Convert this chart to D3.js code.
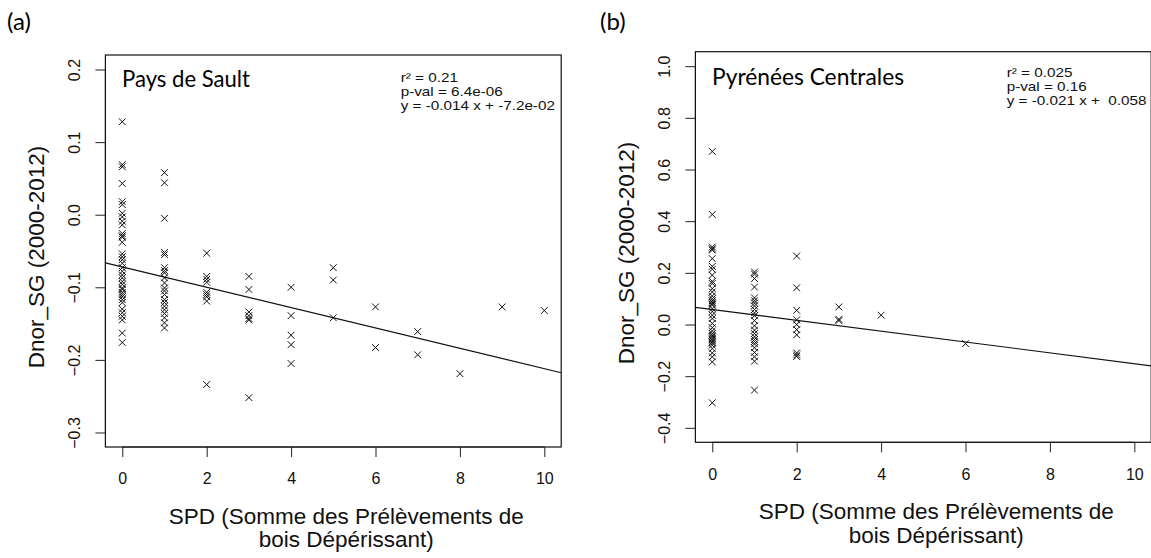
<!DOCTYPE html>
<html>
<head>
<meta charset="utf-8">
<script src="https://cdn.jsdelivr.net/npm/d3@7"></script>
<style>
  html, body { margin: 0; padding: 0; background: #fff; }
  svg { display: block; }
</style>
</head>
<body>
<svg id="chart" width="1151" height="558"></svg>
<script>
// ---------------- DATA ----------------
// (a) Pays de Sault : SPD values and Dnor_SG values observed at each SPD
const saultSPD = [0, 1, 2, 3, 4, 5, 6, 7, 8, 9, 10];
const saultDnor = [
  [0.128, 0.069, 0.066, 0.043, 0.018, 0.014, 0.002, -0.003, -0.009, -0.014, -0.026, -0.029, -0.031,
   -0.038, -0.054, -0.058, -0.062, -0.067, -0.073, -0.078, -0.083, -0.087, -0.092, -0.096, -0.101,
   -0.103, -0.107, -0.110, -0.113, -0.117, -0.121, -0.130, -0.135, -0.140, -0.145, -0.163, -0.176],
  [0.058, 0.044, -0.005, -0.052, -0.055, -0.073, -0.077, -0.080, -0.087, -0.094, -0.101, -0.105,
   -0.110, -0.117, -0.121, -0.126, -0.131, -0.136, -0.142, -0.149, -0.156],
  [-0.053, -0.085, -0.089, -0.093, -0.107, -0.110, -0.113, -0.119, -0.234],
  [-0.085, -0.103, -0.134, -0.139, -0.143, -0.145, -0.252],
  [-0.100, -0.139, -0.166, -0.179, -0.205],
  [-0.073, -0.090, -0.142],
  [-0.127, -0.183],
  [-0.161, -0.193],
  [-0.219],
  [-0.127],
  [-0.132]
];
const saultFit = { slope: -0.014, intercept: -0.072 };
const saultStats = ["r\u00B2 = 0.21", "p-val = 6.4e-06", "y = -0.014 x + -7.2e-02"];
const saultYTicks = [-0.3, -0.2, -0.1, 0.0, 0.1, 0.2];

// (b) Pyrénées Centrales
const pyrSPD = [0, 1, 2, 3, 4, 6];
const pyrDnor = [
  [0.670, 0.426, 0.300, 0.293, 0.288, 0.255, 0.225, 0.214, 0.191, 0.167, 0.159, 0.139, 0.126,
   0.110, 0.100, 0.092, 0.086, 0.080, 0.075, 0.062, 0.050, 0.036, 0.023, 0.004, -0.012, -0.025,
   -0.035, -0.042, -0.048, -0.055, -0.061, -0.067, -0.072, -0.080, -0.093, -0.110, -0.125,
   -0.145, -0.303],
  [0.203, 0.195, 0.178, 0.145, 0.103, 0.092, 0.083, 0.072, 0.058, 0.045, 0.034, 0.015, -0.005,
   -0.022, -0.035, -0.048, -0.058, -0.066, -0.075, -0.090, -0.108, -0.125, -0.142, -0.254],
  [0.265, 0.142, 0.055, 0.018, 0.000, -0.020, -0.040, -0.110, -0.118, -0.124],
  [0.068, 0.020, 0.015],
  [0.036],
  [-0.074]
];
const pyrFit = { slope: -0.021, intercept: 0.058 };
const pyrStats = ["r\u00B2 = 0.025", "p-val = 0.16", "y = -0.021 x +  0.058"];
const pyrYTicks = [-0.4, -0.2, 0.0, 0.2, 0.4, 0.6, 0.8, 1.0];

const xTicks = [0, 2, 4, 6, 8, 10];
const xLabelLines = ["SPD (Somme des Pr\u00E9l\u00E8vements de", "bois D\u00E9p\u00E9rissant)"];
const yLabel = "Dnor_SG (2000-2012)";

// ---------------- DRAWING ----------------
const svg = d3.select("#chart");
const AX_FONT = "'Liberation Sans', Arial, sans-serif";
const CAL_FONT = "Lato, 'Open Sans', sans-serif";

function drawPanel(cfg) {
  const x = d3.scaleLinear().domain([-0.4, 10.4]).range([cfg.left, cfg.right]);
  const y = d3.scaleLinear().domain(cfg.yDomain).range([cfg.bottom, cfg.top]);
  const g = svg.append("g");

  const clipId = "clip" + cfg.id;
  svg.append("clipPath").attr("id", clipId)
    .append("rect").attr("x", cfg.left).attr("y", cfg.top)
    .attr("width", cfg.right - cfg.left).attr("height", cfg.bottom - cfg.top);

  // panel tag
  g.append("text").attr("x", cfg.tagX).attr("y", 30)
    .attr("font-family", CAL_FONT).attr("font-size", 24).text(cfg.tag);

  // x axis
  const xAxis = d3.axisBottom(x).tickValues(xTicks).tickSize(10).tickPadding(18)
    .tickFormat(d3.format("d"));
  const gx = g.append("g").attr("transform", `translate(0,${cfg.bottom})`).call(xAxis);
  gx.select(".domain").attr("d", `M${x(0)},0H${x(10)}`).attr("stroke", "#222");
  gx.selectAll(".tick line").attr("stroke", "#222");
  gx.selectAll(".tick text").attr("font-family", AX_FONT).attr("font-size", 16)
    .attr("fill", "#111").attr("dy", "0.71em").attr("y", 26);

  // y axis
  const yAxis = d3.axisLeft(y).tickValues(cfg.yTicks).tickSize(10).tickFormat(d3.format(".1f"));
  const gy = g.append("g").attr("transform", `translate(${cfg.left},0)`).call(yAxis);
  gy.select(".domain").attr("d", `M0,${y(cfg.yTicks[0])}V${y(cfg.yTicks[cfg.yTicks.length - 1])}`)
    .attr("stroke", "#222");
  gy.selectAll(".tick line").attr("stroke", "#222");
  gy.selectAll(".tick text")
    .attr("font-family", AX_FONT).attr("font-size", 16).attr("fill", "#111")
    .attr("x", null).attr("dy", null)
    .attr("text-anchor", "middle")
    .attr("dominant-baseline", "central")
    .attr("transform", "translate(-30.5,0) rotate(-90)");

  // box
  g.append("rect").attr("x", cfg.left).attr("y", cfg.top)
    .attr("width", cfg.right - cfg.left).attr("height", cfg.bottom - cfg.top)
    .attr("fill", "none").attr("stroke", "#111").attr("stroke-width", 1.2);

  // points
  const pts = [];
  cfg.spd.forEach((sx, i) => cfg.dnor[i].forEach(v => pts.push([sx, v])));
  g.append("g").selectAll("path").data(pts).join("path")
    .attr("transform", d => `translate(${x(d[0])},${y(d[1])})`)
    .attr("d", "M-3.4,-3.4L3.4,3.4M-3.4,3.4L3.4,-3.4")
    .attr("stroke", "#111").attr("stroke-width", 1).attr("fill", "none");

  // regression line (abline)
  const x0 = -0.4, x1 = 10.4;
  g.append("line").attr("clip-path", `url(#${clipId})`)
    .attr("x1", x(x0)).attr("y1", y(cfg.fit.intercept + cfg.fit.slope * x0))
    .attr("x2", x(x1)).attr("y2", y(cfg.fit.intercept + cfg.fit.slope * x1))
    .attr("stroke", "#111").attr("stroke-width", 1.1);

  // site name
  g.append("text").attr("x", cfg.nameX).attr("y", cfg.nameY)
    .attr("font-family", CAL_FONT).attr("font-size", 24)
    .attr("textLength", cfg.nameLen).attr("lengthAdjust", "spacingAndGlyphs")
    .text(cfg.name);

  // stats (slightly wide lettering, tight leading as in the original)
  cfg.stats.forEach((s, i) => {
    g.append("text")
      .attr("transform", `translate(${cfg.statX},${cfg.statY + i * 14}) scale(1.13,1)`)
      .attr("font-family", AX_FONT).attr("font-size", 13.5).attr("fill", "#111")
      .style("white-space", "pre").attr("xml:space", "preserve").text(s);
  });

  // axis titles
  const cx = (cfg.left + cfg.right) / 2 + 13;
  xLabelLines.forEach((t, i) => {
    g.append("text").attr("x", cx).attr("y", cfg.bottom + 77 + i * 23.3)
      .attr("text-anchor", "middle").attr("font-family", AX_FONT).attr("font-size", 22.5)
      .attr("fill", "#111").text(t);
  });
  const cy = (cfg.top + cfg.bottom) / 2 + 6;
  g.append("text")
    .attr("transform", `translate(${cfg.left - 69},${cy}) rotate(-90)`)
    .attr("text-anchor", "middle").attr("dominant-baseline", "central")
    .attr("font-family", AX_FONT).attr("font-size", 22.5).attr("fill", "#111")
    .text(yLabel);
}

drawPanel({
  id: "a", tag: "(a)", tagX: 7,
  left: 105.4, right: 561.2, top: 55, bottom: 447,
  yDomain: [-0.32, 0.22], yTicks: saultYTicks,
  spd: saultSPD, dnor: saultDnor, fit: saultFit,
  name: "Pays de Sault", nameX: 122, nameY: 87, nameLen: 128,
  stats: saultStats, statX: 400.7, statY: 82
});

drawPanel({
  id: "b", tag: "(b)", tagX: 600,
  left: 695.4, right: 1151.2, top: 51.7, bottom: 442.3,
  yDomain: [-0.456, 1.056], yTicks: pyrYTicks,
  spd: pyrSPD, dnor: pyrDnor, fit: pyrFit,
  name: "Pyr\u00E9n\u00E9es Centrales", nameX: 712, nameY: 85, nameLen: 192,
  stats: pyrStats, statX: 1006.7, statY: 77
});
</script>
</body>
</html>
